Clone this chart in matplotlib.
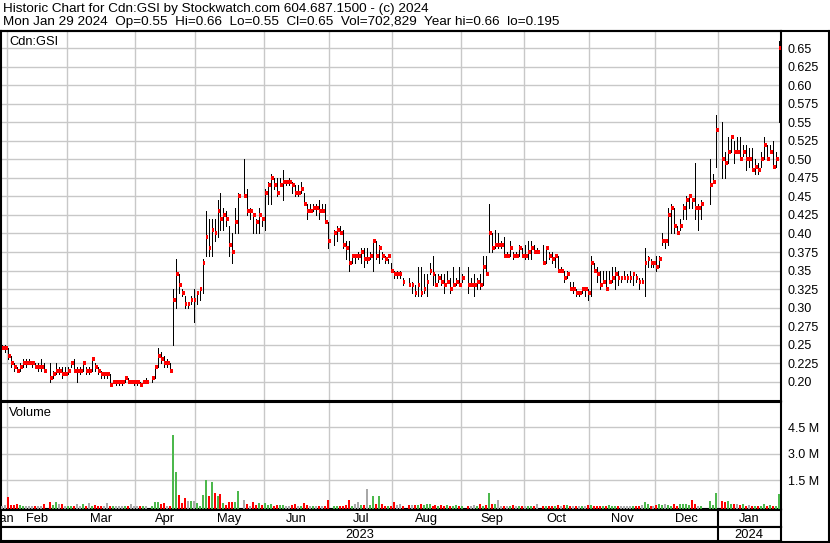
import numpy as np
import pandas as pd
import matplotlib
matplotlib.use("Agg")
import matplotlib.pyplot as plt
from matplotlib.lines import Line2D

plt.rcParams['font.family'] = ['Liberation Sans', 'DejaVu Sans']

# TSX holidays in the window (no bars on these weekdays)
holidays = ['2023-02-20', '2023-04-07', '2023-05-22', '2023-07-03', '2023-08-07',
            '2023-09-04', '2023-10-09', '2023-12-25', '2023-12-26', '2024-01-01']

highs = [
    .25, .25,
    .245, .235, .225, .22, .225, .23, .23, .23, .225, .225, .225, .23, .225, .225, .215, .225, .22, .22, .22,
    .22, .225, .23, .22, .22, .225, .22, .22, .23, .225, .22, .215, .21, .21, .21, .20, .20, .20, .20, .205, .205, .20, .20,
    .20, .20, .20, .205, .205, .22, .245, .24, .235, .23, .225, .325, .365, .345, .325, .315, .305, .315, .325,
    .32, .325, .365, .43, .42, .42, .42, .445, .455, .435, .43, .41, .40, .435, .455, .50, .46, .435, .425, .42, .435, .42,
    .46, .47, .48, .475, .475, .475, .485, .47, .475, .47, .465, .465, .47, .455, .44, .44, .44, .44, .445, .44, .44, .415,
    .405, .41, .41, .405, .39, .39, .37, .37, .375, .38, .38, .38, .375, .39, .39, .385, .375, .37, .365, .36,
    .35, .35, .35, .34, .34, .335, .33, .355, .355, .345, .345, .36, .37, .345, .345, .345, .345, .35, .34, .355, .34, .355,
    .345, .355, .34, .345, .34, .345, .37, .37, .44, .40, .405, .40, .39, .395, .375, .39, .375, .375, .385, .38,
    .385, .39, .39, .385, .38, .385, .38, .375, .375, .37, .37, .355, .35, .35, .335, .335, .325, .32, .325, .325, .325,
    .37, .36, .355, .35, .35, .35, .35, .355, .355, .35, .34, .35, .345, .35, .345, .345, .34, .34, .38, .37, .365, .36,
    .37, .37, .40, .39, .435, .44, .435, .41, .42, .44, .45, .45, .445, .495, .44, .445, .50, .48, .56,
    .55, .51, .53, .53, .525, .53, .53, .52, .52, .515, .515, .50, .495, .51, .53, .52, .52, .525, .51, .66,
]
lows = [
    .245, .24,
    .23, .22, .215, .215, .215, .22, .22, .225, .22, .22, .215, .215, .215, .20, .205, .21, .21, .205, .21,
    .21, .22, .215, .20, .21, .215, .21, .21, .215, .215, .21, .205, .205, .205, .195, .20, .195, .195, .195, .20, .20, .20, .195,
    .195, .195, .20, .20, .20, .205, .22, .225, .22, .22, .215, .25, .30, .32, .315, .30, .30, .305, .28,
    .305, .31, .32, .37, .37, .37, .39, .395, .405, .405, .41, .37, .36, .40, .40, .45, .425, .42, .40, .40, .40, .41,
    .405, .44, .44, .46, .45, .465, .445, .465, .465, .455, .45, .45, .455, .44, .42, .43, .43, .425, .42, .43, .415, .38,
    .385, .39, .40, .38, .365, .35, .36, .36, .365, .36, .355, .36, .365, .35, .365, .36, .365, .36, .36, .35,
    .34, .34, .34, .33, .33, .32, .315, .315, .315, .32, .315, .345, .33, .33, .335, .33, .32, .335, .32, .33, .33, .33,
    .335, .32, .33, .315, .325, .325, .33, .345, .375, .375, .38, .38, .38, .37, .37, .37, .365, .37, .37, .37,
    .365, .365, .365, .375, .375, .36, .36, .365, .36, .355, .35, .35, .335, .34, .325, .32, .315, .315, .32, .315, .31,
    .315, .35, .335, .325, .335, .325, .335, .335, .325, .33, .335, .34, .335, .335, .33, .335, .325, .335, .315, .355, .355, .355,
    .35, .355, .385, .38, .385, .40, .40, .40, .405, .42, .42, .435, .435, .42, .405, .42, .44, .47, .49,
    .475, .475, .495, .51, .495, .51, .50, .505, .485, .49, .485, .48, .48, .49, .50, .50, .51, .49, .49, .55,
]
closes = [
    .245, .245,
    .235, .225, .22, .215, .22, .225, .225, .225, .225, .22, .22, .22, .215, .205, .21, .215, .215, .21, .21,
    .215, .225, .215, .215, .215, .225, .215, .215, .23, .22, .215, .21, .21, .21, .195, .20, .20, .20, .20, .205, .20, .20, .20,
    .20, .195, .20, .20, .205, .22, .235, .23, .225, .225, .215, .31, .345, .33, .32, .305, .305, .31, .31,
    .32, .325, .36, .395, .38, .405, .40, .43, .42, .425, .42, .385, .375, .415, .45, .45, .43, .43, .425, .415, .425, .42,
    .455, .465, .475, .465, .455, .465, .47, .47, .47, .465, .455, .455, .46, .44, .43, .43, .435, .435, .43, .43, .415, .39,
    .40, .405, .40, .385, .38, .36, .37, .37, .37, .375, .365, .365, .37, .39, .37, .38, .37, .365, .37, .35,
    .345, .345, .345, .335, .33, .33, .32, .33, .32, .325, .335, .35, .345, .33, .34, .335, .33, .335, .325, .33, .335, .33,
    .34, .33, .33, .33, .335, .33, .355, .345, .40, .38, .385, .385, .385, .37, .37, .38, .37, .37, .38, .37,
    .37, .375, .38, .375, .375, .36, .38, .37, .365, .37, .35, .35, .34, .345, .325, .325, .32, .32, .325, .325, .32,
    .36, .35, .345, .33, .335, .325, .335, .34, .345, .34, .34, .34, .34, .34, .345, .34, .335, .335, .36, .365, .36, .36,
    .355, .365, .39, .39, .425, .435, .41, .40, .41, .435, .445, .45, .445, .435, .435, .44, .465, .47, .54,
    .50, .495, .51, .53, .51, .51, .50, .51, .50, .50, .485, .49, .485, .50, .52, .50, .51, .49, .50, .65,
]
# volume in millions of shares
volumes = [
    .04, .08,
    .56, .08, .08, .13, .08, .01, .02, .02, .02, .02, .01, .03, .13, .25, .08, .25, .12, .15, .03,
    .01, .01, .02, .15, .02, .15, .02, .21, .03, .10, .02, .02, .03, .19, .03, .02, .02, .02, .02, .01, .01, .13, .02,
    .02, .01, .02, .02, .04, .25, .25, .15, .21, .02, .03, 4.06, 1.98, .65, .19, .48, .33, .33, .33,
    .21, .04, .65, 1.52, .62, 1.40, .77, .60, .71, .19, .08, .25, .25, .25, .88, .37, .12, .02, .25, .06, .19, .06,
    .21, .06, .12, .04, .08, .06, .06, .02, .04, .08, .12, .02, .02, .21, .06, .02, .02, .02, .02, .02, .02, .35,
    .02, .02, .02, .02, .06, .35, .02, .12, .23, .06, .06, .98, .06, .58, .12, .58, .12, .02, .02, .02,
    .23, .06, .12, .02, .06, .06, .06, .06, .12, .06, .12, .12, .02, .06, .02, .06, .02, .06, .02, .02, .06, .02,
    .02, .04, .02, .06, .02, .17, .02, .06, .75, .17, .12, .35, .02, .02, .02, .02, .06, .02, .02, .02,
    .02, .02, .02, .02, .12, .02, .02, .02, .02, .02, .06, .02, .06, .06, .02, .02, .02, .02, .02, .02, .06,
    .06, .02, .01, .01, .02, .02, .06, .02, .02, .01, .01, .01, .01, .01, .01, .02, .02, .06, .23, .17, .02, .02,
    .06, .17, .06, .17, .06, .02, .17, .02, .17, .12, .17, .06, .35, .12, .02, .01, .29, .06, .75,
    .29, .23, .29, .17, .12, .17, .06, .17, .02, .06, .02, .02, .02, .02, .17, .02, .06, .02, .02, .70,
]
price_ticks = np.arange(0.20, 0.6501, 0.025)
vol_ticks = [1.5e6, 3.0e6, 4.5e6]

title1 = "Historic Chart for Cdn:GSI by Stockwatch.com 604.687.1500 - (c) 2024"
title2 = ("Mon Jan 29 2024  Op=0.55  Hi=0.66  Lo=0.55  Cl=0.65  Vol=702,829  "
          "Year hi=0.66  lo=0.195")

# ---- positions: one slot per weekday, holidays left empty
weekdays = pd.bdate_range('2023-01-30', '2024-01-29')
trade_days = weekdays[~weekdays.isin(pd.to_datetime(holidays))]
pos = weekdays.get_indexer(trade_days)
highs, lows, closes = np.array(highs), np.array(lows), np.array(closes)
vol = np.array(volumes) * 1e6
assert len(pos) == len(highs) == len(lows) == len(closes) == len(vol)

chg = np.diff(closes, prepend=closes[0])
vcolors = np.where(chg > 1e-9, '#4cb84c', np.where(chg < -1e-9, '#ff0000', '#a8a8a8'))

W, H = 830, 543
GRID = '#c8c8c8'
LW = 1.5  # heavy frame lines


def rect(l, t, r, b):
    return [l / W, 1 - b / H, (r - l) / W, (b - t) / H]


fig = plt.figure(figsize=(W / 100, H / 100), dpi=100)
fig.patch.set_facecolor('white')

xlim = (-0.5, 260.7)
month_starts = [i for i in range(1, len(weekdays)) if weekdays[i].month != weekdays[i - 1].month]
bounds = [i - 0.5 for i in month_starts]

ax_p = fig.add_axes(rect(1, 31, 781, 401))
ax_v = fig.add_axes(rect(1, 402, 781, 509))
ax_m = fig.add_axes(rect(1, 510, 781, 527))
ax_y = fig.add_axes(rect(1, 527, 781, 541))

for ax in (ax_p, ax_v, ax_m, ax_y):
    ax.set_xlim(*xlim)
    for s in ax.spines.values():
        s.set_linewidth(LW)
        s.set_color('black')

# ---- price panel
ax_p.set_ylim(0.174, 0.6732)
ax_p.set_yticks(price_ticks)
ax_p.set_yticklabels([(f"{v:.3f}"[:-1] if f"{v:.3f}".endswith('0') else f"{v:.3f}") for v in price_ticks])
ax_p.yaxis.tick_right()
ax_p.tick_params(axis='y', length=0, pad=5, labelsize=9)
ax_p.set_xticks(bounds)
ax_p.tick_params(axis='x', length=0, labelbottom=False)
ax_p.grid(True, color=GRID, lw=1.0, zorder=0)
ax_p.set_axisbelow(True)
ax_p.vlines(pos, lows, highs, color='black', lw=0.6, antialiased=False, zorder=3)
ax_p.hlines(closes, pos, pos + 0.95, color='red', lw=1.6, antialiased=False, zorder=4)
ax_p.text(8 / 780, 1 - 11 / 370, "Cdn:GSI", transform=ax_p.transAxes, fontsize=9.3,
          va='center', ha='left')

# ---- volume panel
vfloor = -0.14e6
ax_v.set_ylim(vfloor, 5.95e6)
ax_v.set_yticks(vol_ticks)
ax_v.set_yticklabels([f"{v / 1e6:.1f} M" for v in vol_ticks])
ax_v.yaxis.tick_right()
ax_v.tick_params(axis='y', length=0, pad=5, labelsize=9)
ax_v.set_xticks(bounds)
ax_v.tick_params(axis='x', length=0, labelbottom=False)
ax_v.grid(True, color=GRID, lw=1.0, zorder=0)
ax_v.set_axisbelow(True)
ax_v.bar(pos, vol - vfloor, bottom=vfloor, width=0.67, color=vcolors,
         antialiased=False, zorder=3)
ax_v.text(8 / 780, 1 - 11 / 107, "Volume", transform=ax_v.transAxes, fontsize=9.3,
          va='center', ha='left')

# ---- month and year bands
for ax in (ax_m, ax_y):
    ax.set_ylim(0, 1)
    ax.set_xticks([])
    ax.set_yticks([])

months = pd.Series(np.arange(len(weekdays)), index=weekdays)
for key, grp in months.groupby([weekdays.year, weekdays.month]):
    centre = (grp.iloc[0] + grp.iloc[-1]) / 2
    ax_m.text(centre, 0.45, grp.index[0].strftime('%b'), ha='center', va='center',
              fontsize=9.3, clip_on=True)
for yr, grp in months.groupby(weekdays.year):
    centre = (grp.iloc[0] + grp.iloc[-1]) / 2
    ax_y.text(centre, 0.45, str(yr), ha='center', va='center', fontsize=9.3, clip_on=True)
    if grp.iloc[0] > 0:
        for ax in (ax_m, ax_y):
            ax.axvline(grp.iloc[0] - 0.5, color='black', lw=LW)

# ---- header and outer frame
fig.text(3 / W, 1 - 9 / H, title1, fontsize=9.7, va='center', ha='left')
fig.text(3 / W, 1 - 22 / H, title2, fontsize=9.7, va='center', ha='left')

for (x0, y0, x1, y1) in [(0, 31, 830, 31), (828.5, 31, 828.5, 542), (0, 541.5, 830, 541.5)]:
    fig.add_artist(Line2D([x0 / W, x1 / W], [1 - y0 / H, 1 - y1 / H], color='black',
                          lw=LW, transform=fig.transFigure))

fig.savefig('out.png', dpi=100)
